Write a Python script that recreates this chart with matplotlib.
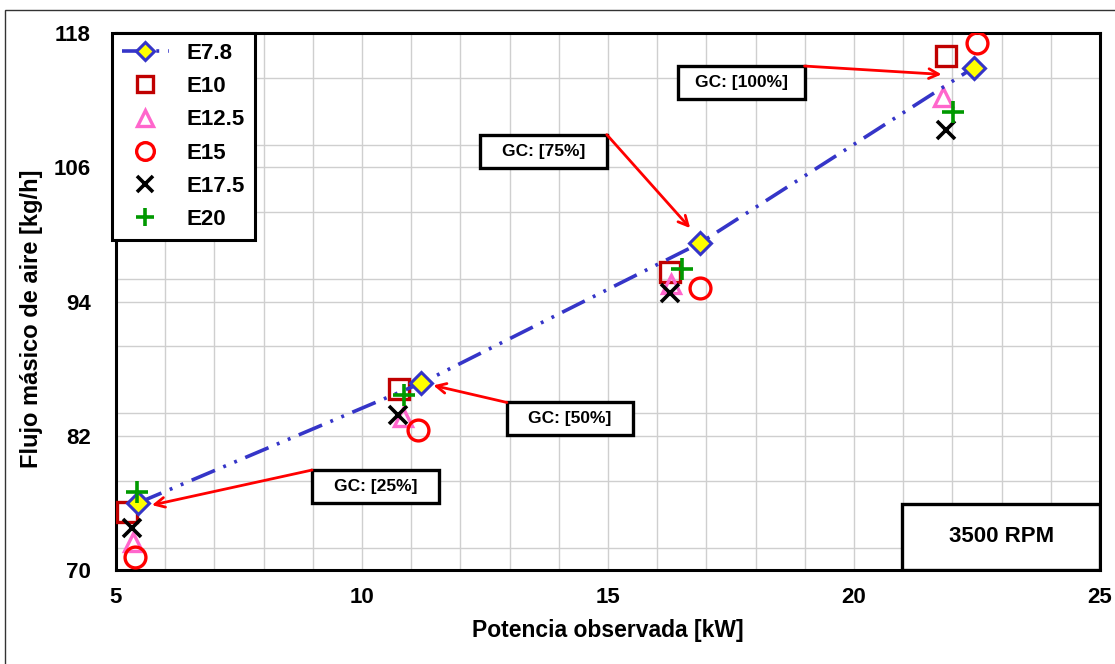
import matplotlib
matplotlib.use("Agg")
import matplotlib.pyplot as plt
from matplotlib.patches import Rectangle
from matplotlib.ticker import MultipleLocator

plt.rcParams['font.family'] = ['Liberation Sans', 'DejaVu Sans']

# ---- data ----
series_names = ["E7.8", "E10", "E12.5", "E15", "E17.5", "E20"]
x_e78 = [5.45, 11.2, 16.86, 22.43]
y_e78 = [76.0, 86.7, 99.2, 114.9]
x_e10 = [5.22, 10.76, 16.27, 21.88]
y_e10 = [75.2, 86.2, 96.6, 115.9]
x_e125 = [5.35, 10.84, 16.29, 21.8]
y_e125 = [72.5, 83.7, 95.6, 112.3]
x_e15 = [5.39, 11.14, 16.86, 22.49]
y_e15 = [71.2, 82.5, 95.2, 117.1]
x_e175 = [5.33, 10.73, 16.27, 21.86]
y_e175 = [73.75, 83.85, 94.75, 109.3]
x_e20 = [5.43, 10.86, 16.51, 22.02]
y_e20 = [77.0, 85.6, 96.9, 110.9]
load_labels = ["GC: [25%]", "GC: [50%]", "GC: [75%]", "GC: [100%]"]
x_ticks = [5, 10, 15, 20, 25]
y_ticks = [70, 82, 94, 106, 118]

fig = plt.figure(figsize=(11.15, 6.64), dpi=100)
ax = fig.add_axes([116/1115, 1-570/664, (1100-116)/1115, (570-33)/664])

# outer frame of the picture
fig.patches.append(Rectangle((5/1115, -0.1), 1.2, 1-10/664+0.1, transform=fig.transFigure,
                             fill=False, edgecolor='#333333', lw=1.0))

blue = '#3535C8'
ax.plot(x_e78, y_e78, color=blue, lw=2.6, linestyle=(0, (7, 2.5, 0.8, 2.5, 0.8, 2.5)),
        marker='D', markersize=11, markerfacecolor='#FFFF00', markeredgecolor=blue,
        markeredgewidth=2.2, label=series_names[0], zorder=5)
ax.plot(x_e10, y_e10, linestyle='none', marker='s', markersize=14, markerfacecolor='none',
        markeredgecolor='#C00000', markeredgewidth=2.4, label=series_names[1], zorder=4)
ax.plot(x_e125, y_e125, linestyle='none', marker='^', markersize=13, markerfacecolor='none',
        markeredgecolor='#FF66CC', markeredgewidth=2.4, label=series_names[2], zorder=4)
ax.plot(x_e15, y_e15, linestyle='none', marker='o', markersize=15, markerfacecolor='none',
        markeredgecolor='#FF0000', markeredgewidth=2.4, label=series_names[3], zorder=4)
ax.plot(x_e175, y_e175, linestyle='none', marker='x', markersize=13, color='black',
        markeredgewidth=2.6, label=series_names[4], zorder=4)
ax.plot(x_e20, y_e20, linestyle='none', marker='+', markersize=16, color='#009900',
        markeredgewidth=2.6, label=series_names[5], zorder=6)

ax.set_xlim(5, 25)
ax.set_ylim(70, 118)
ax.set_xticks(x_ticks)
ax.set_yticks(y_ticks)
ax.xaxis.set_minor_locator(MultipleLocator(1))
ax.yaxis.set_minor_locator(MultipleLocator(6))
ax.grid(True, which='both', color='#CFCFCF', lw=1.0, zorder=0)
ax.set_axisbelow(True)
ax.tick_params(axis='x', which='both', length=0, pad=12)
ax.tick_params(axis='y', which='both', length=0, pad=18)
for lab in ax.get_xticklabels() + ax.get_yticklabels():
    lab.set_fontweight('bold')
    lab.set_fontsize(16)

for s in ax.spines.values():
    s.set_linewidth(2.2)
    s.set_color('black')

ax.set_xlabel('Potencia observada [kW]', fontsize=16.5, fontweight='bold', labelpad=8)
ax.set_ylabel('Flujo másico de aire [kg/h]', fontsize=17, fontweight='bold')
ax.yaxis.set_label_coords(-0.074, 0.467)

leg = ax.legend(loc='upper left', bbox_to_anchor=(-0.004, 1.0), borderaxespad=0,
                prop={'weight': 'bold', 'size': 16}, markerscale=0.85,
                labelspacing=0.55, handlelength=2.1, handletextpad=0.8,
                borderpad=0.45, fancybox=False, framealpha=1, edgecolor='black')
leg.get_frame().set_linewidth(2.2)
leg.set_zorder(8)

# annotations: label boxes (fixed size in data units) with arrows from a corner
box_w, box_h = 2.57, 2.95
centers = [(10.27, 77.46), (14.23, 83.5), (13.69, 107.44), (17.71, 113.57)]
tips = [(5.73, 75.8), (11.45, 86.5), (16.67, 100.56), (21.78, 114.3)]
corner_side = [-1, -1, 1, 1]
for lab, (cx, cy), tip, side in zip(load_labels, centers, tips, corner_side):
    ax.add_patch(Rectangle((cx - box_w / 2, cy - box_h / 2), box_w, box_h,
                           facecolor='white', edgecolor='black', lw=2.4, zorder=7))
    ax.text(cx, cy, lab, ha='center', va='center', fontsize=12.5,
            fontweight='bold', zorder=8)
    start = (cx + side * box_w / 2, cy + box_h / 2)
    ax.annotate('', xy=tip, xytext=start,
                arrowprops=dict(arrowstyle='->,head_length=0.7,head_width=0.35',
                                color='#FF0000', lw=2, shrinkA=0, shrinkB=0),
                zorder=7)

# RPM box
ax.add_patch(Rectangle((20.98, 70), 25 - 20.98, 75.9 - 70, facecolor='white',
                       edgecolor='black', lw=2.4, zorder=6))
ax.text(23.0, 72.95, '3500 RPM', ha='center', va='center', fontsize=16,
        fontweight='bold', zorder=7)

fig.savefig('out.png', dpi=100)
